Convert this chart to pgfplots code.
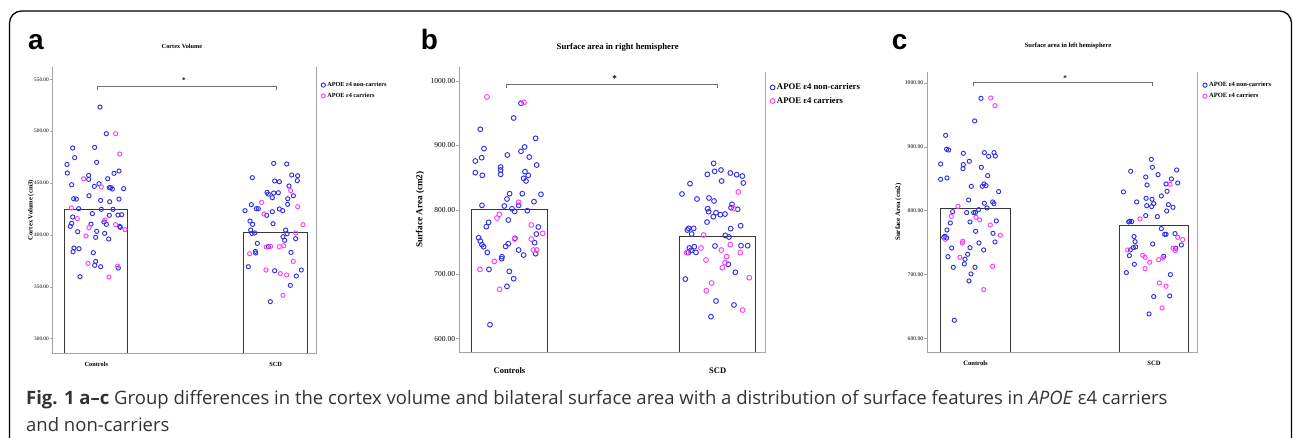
\documentclass[border=0pt]{standalone}
\usepackage{fontspec}
\setmainfont{Liberation Serif}
\newfontfamily\capfont{Open Sans}
\newfontfamily\letterfont{Liberation Sans}
\usepackage{pgfplots}
\pgfplotsset{compat=1.18}

\definecolor{noncar}{RGB}{51,51,230}
\definecolor{car}{RGB}{255,64,255}
\definecolor{axgray}{RGB}{165,165,165}
\definecolor{bargray}{RGB}{55,55,55}
\definecolor{brgray}{RGB}{110,110,110}

\newcommand{\fs}[1]{\fontsize{#1}{#1}\selectfont}

\pgfplotsset{
  panel/.style={
    scale only axis,
    axis line style={draw=none},
    clip mode=individual,
    tick align=outside,
    major tick length=3pt,
    ytick pos=left,
    xtick style={draw=none},
    ytick style={draw=axgray, line width=0.6pt},
    /pgf/number format/assume math mode=true,
    yticklabel style={anchor=east, inner sep=1pt,
      /pgf/number format/fixed, /pgf/number format/fixed zerofill,
      /pgf/number format/precision=2, /pgf/number format/1000 sep={}},
    legend style={draw=none, fill=none, inner sep=0pt, anchor=north west},
    legend cell align=left,
  },
  nonc/.style={only marks, mark=o, color=noncar, mark options={line width=0.95pt}},
  carr/.style={only marks, mark=o, color=car, mark options={line width=0.95pt}},
  bars/.style={ybar, bar shift=0pt, fill=white, draw=bargray, line width=1pt, forget plot},
}

\begin{document}
\begin{tikzpicture}
\useasboundingbox (0,0) rectangle (1293pt,-438pt);
\draw[line width=1.3pt, rounded corners=12pt] (9.5pt,-11pt) rectangle (1291.5pt,-480pt);

% ---------------- panel a ----------------
\begin{axis}[panel,
  at={(53pt,-353pt)}, anchor=south west,
  width=264pt, height=286pt,
  xmin=160, xmax=952, ymin=286.2, ymax=561.9,
  xtick={290,828}, xticklabels={Controls,SCD},
  xticklabel style={font=\bfseries\fs{6.3}, anchor=center, yshift=-8pt},
  ytick={300,350,...,550},
  yticklabel style={font=\fs{5.3}},
  ylabel={Cortex Volume (cm3)},
  ylabel style={at={(axis description cs:-0.083,0.5)}, anchor=center, font=\bfseries\fs{6.6}},
  title={Cortex Volume},
  title style={at={(axis description cs:0.5,1)}, anchor=center, yshift=15pt, xshift=-3pt, font=\bfseries\fs{6.3}},
  legend style={at={(rel axis cs:1,1)}, xshift=4pt, yshift=-13pt, font=\bfseries\fs{6.2}, row sep=1pt},
  mark size=2.1pt,
]
\addplot[bars, bar width=190] coordinates {(290,424.3) (828,402.8)};
\addplot[nonc] coordinates {
(301,523.3) (320,497.6) (219,483.8) (285,484.4) (225,474.5) (202,468.0) (291,470.0) (203,459.7)
(267,457.4) (267,453.6) (216,448.4) (298,449.4) (284,446.8) (324,454.2) (343,459.4) (358,461.6)
(329,445.6) (333,445.6) (338,444.3) (372,444.6) (268,437.8) (222,434.9) (230,434.6) (303,433.3)
(330,432.0) (358,434.6) (237,425.3) (305,424.7) (340,424.7) (278,420.5) (329,418.9) (355,419.2)
(366,419.5) (219,417.3) (216,411.2) (212,408.3) (274,410.5) (313,412.5) (320,410.2) (360,408.3)
(362,407.3) (234,403.1) (291,403.5) (315,401.5) (288,397.7) (327,396.1) (223,387.4) (238,386.8)
(220,383.9) (281,382.9) (288,374.5) (285,370.7) (303,369.4) (356,368.1) (241,359.8)
(822,469.0) (861,468.4) (758,455.2) (876,457.8) (894,457.1) (893,452.3) (825,452.0) (839,451.3)
(868,447.2) (802,441.0) (806,439.4) (822,440.4) (836,440.7) (881,437.8) (818,435.9) (864,434.9)
(755,429.2) (864,429.5) (770,425.3) (776,425.3) (839,425.0) (849,423.4) (736,423.4) (818,422.4)
(801,418.9) (751,413.4) (759,410.2) (820,410.8) (753,404.7) (858,404.7) (757,401.5) (765,401.9)
(862,401.2) (850,398.3) (855,394.8) (888,396.4) (773,391.9) (767,384.2) (768,382.6) (806,388.7)
(874,383.2) (746,369.4) (825,365.5) (905,366.2) (890,360.4) (872,351.4) (812,335.7)
};
\addlegendentry{APOE ε4 non-carriers}
\addplot[carr] coordinates {
(348,497.6) (360,478.0) (252,454.2) (305,446.2) (215,426.0) (233,415.7) (316,414.4) (268,407.0)
(348,409.9) (376,405.1) (259,399.0) (265,372.6) (354,370.0) (328,359.4)
(786,431.4) (873,442.7) (894,427.2) (793,420.2) (910,409.9) (888,401.9) (750,381.9) (800,388.4)
(813,389.0) (839,388.7) (852,389.6) (881,374.5) (799,366.2) (842,362.7) (861,361.4) (850,341.8)
};
\addlegendentry{APOE ε4 carriers}
\addplot[brgray, line width=0.8pt, forget plot] coordinates {(292,539.7) (292,543.5) (831,543.5) (831,539.7)};
\node[font=\bfseries\fs{7}] at (axis cs:553,549) {*};
\draw[axgray, line width=1pt] (rel axis cs:0,1) -- (rel axis cs:0,0) -- (rel axis cs:1,0) -- (rel axis cs:1,1);
\end{axis}

% ---------------- panel b ----------------
\begin{axis}[panel,
  at={(459.3pt,-352.7pt)}, anchor=south west,
  width=306.7pt, height=286pt,
  xmin=148, xmax=1068, ymin=578.3, ymax=1022.2,
  xtick={298.5,923}, xticklabels={Controls,SCD},
  xticklabel style={font=\bfseries\fs{8.5}, anchor=center, yshift=-15pt},
  ytick={600,700,...,1000},
  yticklabel style={font=\fs{7.5}},
  ylabel={Surface Area (cm2)},
  ylabel style={at={(axis description cs:-0.128,0.5)}, anchor=center, font=\bfseries\fs{9.2}},
  title={Surface area in right hemisphere},
  title style={at={(axis description cs:0.5,1)}, anchor=center, yshift=13.4pt, xshift=5pt, font=\bfseries\fs{8.7}},
  legend style={at={(rel axis cs:1,1)}, xshift=4pt, yshift=-14.8pt, font=\bfseries\fs{8.7}, row sep=2pt},
  mark size=2.4pt,
]
\addplot[bars, bar width=226] coordinates {(298.5,801.3) (923,759.4)};
\addplot[nonc] coordinates {
(333,965.4) (311,942.6) (211,925.0) (377,911.0) (222,895.0) (344,897.6) (333,890.8) (215,881.0)
(292,885.1) (358,882.0) (196,875.8) (272,866.5) (272,861.9) (272,855.1) (345,859.3) (355,853.6)
(196,857.7) (217,853.6) (380,869.6) (341,848.9) (348,844.8) (299,825.1) (337,825.1) (393,824.1)
(291,816.8) (372,812.7) (216,807.0) (283,806.0) (326,807.0) (306,801.8) (314,797.7) (352,798.7)
(295,784.2) (236,780.6) (229,773.9) (385,773.4) (379,762.5) (206,756.8) (211,751.6) (315,755.8)
(374,749.0) (216,745.9) (221,742.8) (295,747.5) (287,743.3) (232,734.0) (326,737.7) (341,729.9)
(377,732.0) (276,727.3) (275,724.2) (237,707.6) (298,704.5) (311,693.2) (291,681.2) (240,621.7)
(911,872.2) (892,855.1) (914,859.8) (933,861.9) (961,857.2) (980,854.6) (997,852.5) (935,844.8)
(1000,841.7) (840,840.6) (816,824.6) (861,816.8) (897,818.4) (912,813.7) (966,808.6) (963,803.4)
(983,800.8) (893,801.8) (896,797.2) (918,795.6) (931,792.5) (945,793.5) (910,789.4) (891,781.1)
(992,775.4) (962,770.8) (836,771.3) (851,771.3) (832,768.7) (845,762.5) (946,760.4) (957,757.8)
(838,740.8) (853,742.8) (843,737.1) (835,734.0) (858,734.0) (915,743.9) (993,744.4) (1013,744.4)
(955,715.4) (976,703.0) (826,692.6) (918,658.5) (972,652.3) (903,634.2)
};
\addlegendentry{APOE ε4 non-carriers}
\addplot[carr] coordinates {
(231,975.2) (342,966.9) (326,811.7) (268,793.0) (261,787.3) (364,776.5) (398,763.5) (314,754.7)
(364,754.7) (370,737.7) (380,737.7) (253,720.1) (210,707.6) (269,676.6)
(985,827.7) (971,801.8) (881,760.9) (873,740.8) (830,733.5) (961,745.9) (934,737.7) (991,733.5)
(888,722.1) (950,727.3) (945,718.0) (937,710.2) (1018,694.7) (905,686.4) (889,674.5) (998,644.5)
};
\addlegendentry{APOE ε4 carriers}
\addplot[brgray, line width=0.8pt, forget plot] coordinates {(289,988.6) (289,994.9) (922,994.9) (922,988.6)};
\node[font=\bfseries\fs{9}] at (axis cs:614,1004) {*};
\draw[axgray, line width=1pt] (rel axis cs:0,1) -- (rel axis cs:0,0) -- (rel axis cs:1,0) -- (axis cs:1068,1014);
\end{axis}

% ---------------- panel c ----------------
\begin{axis}[panel,
  at={(927.3pt,-352.3pt)}, anchor=south west,
  width=270.4pt, height=280.6pt,
  xmin=172, xmax=983, ymin=578, ymax=1017.7,
  xtick={316.5,852}, xticklabels={Controls,SCD},
  xticklabel style={font=\bfseries\fs{6.6}, anchor=center, yshift=-8.4pt},
  ytick={600,700,...,1000},
  yticklabel style={font=\fs{5.6}},
  ylabel={Surface Area (cm2)},
  ylabel style={at={(axis description cs:-0.107,0.5)}, anchor=center, font=\bfseries\fs{6.9}},
  title={Surface area in left hemisphere},
  title style={at={(axis description cs:0.5,1)}, anchor=center, yshift=19.4pt, xshift=5.5pt, font=\bfseries\fs{6.5}},
  legend style={at={(rel axis cs:1,1)}, xshift=5pt, yshift=-8.3pt, font=\bfseries\fs{6.5}, row sep=1pt},
  mark size=2.1pt,
]
\addplot[bars, bar width=208] coordinates {(316.5,802.6) (852,777.0)};
\addplot[nonc] coordinates {
(333,976.0) (314,940.5) (227,918.0) (230,896.1) (236,895.0) (280,889.8) (343,890.9) (372,890.9)
(356,885.1) (376,885.6) (212,873.1) (298,877.3) (280,872.1) (279,865.8) (334,867.9) (353,854.8)
(212,849.1) (231,851.2) (304,838.1) (337,838.1) (342,841.8) (348,839.2) (386,829.8) (296,816.7)
(343,811.5) (368,813.6) (372,811.0) (351,804.2) (326,801.6) (248,798.4) (290,796.9) (311,796.9)
(316,796.9) (241,780.7) (300,782.3) (379,783.8) (231,769.7) (317,767.6) (369,764.5) (225,759.8)
(221,758.2) (230,757.2) (375,750.9) (327,749.3) (245,741.5) (300,742.0) (341,738.4) (234,727.9)
(293,731.6) (285,723.8) (283,716.5) (250,711.2) (315,711.2) (303,700.8) (297,689.8) (253,628.2)
(844,880.4) (847,867.9) (782,861.6) (920,863.7) (827,852.7) (864,856.4) (904,849.6) (888,841.8)
(923,843.3) (831,840.2) (760,829.3) (891,830.3) (874,823.0) (828,819.3) (846,817.8) (800,813.6)
(851,811.0) (830,807.8) (845,806.3) (895,809.4) (909,805.2) (890,799.5) (827,792.2) (862,790.6)
(776,782.3) (779,783.3) (785,782.8) (874,771.8) (884,762.9) (888,762.9) (915,764.0) (792,759.3)
(795,751.4) (848,747.8) (934,746.2) (790,742.0) (797,743.1) (781,738.4) (917,741.0) (778,729.5)
(881,728.5) (793,715.9) (769,702.9) (901,699.7) (851,665.3) (899,666.3) (837,638.1)
};
\addlegendentry{APOE ε4 non-carriers}
\addplot[carr] coordinates {
(362,976.5) (375,964.5) (264,806.8) (244,791.1) (318,789.6) (329,785.4) (361,777.5) (391,761.4)
(278,752.0) (277,749.3) (226,755.1) (270,726.9) (368,712.8) (341,676.2)
(900,841.3) (810,787.0) (923,758.2) (938,754.6) (909,741.0) (916,737.3) (773,738.4) (818,730.0)
(825,726.9) (866,723.2) (878,725.9) (839,719.1) (825,709.1) (868,686.7) (888,681.5) (876,647.5)
};
\addlegendentry{APOE ε4 carriers}
\addplot[brgray, line width=0.8pt, forget plot] coordinates {(310,995.3) (310,1001.6) (847,1001.6) (847,995.3)};
\node[font=\bfseries\fs{7}] at (axis cs:585,1007) {*};
\draw[axgray, line width=1pt] (rel axis cs:0,1) -- (rel axis cs:0,0) -- (rel axis cs:1,0) -- (rel axis cs:1,1);
\end{axis}

% ---------------- letters and caption ----------------
\node[anchor=base west, inner sep=0pt, font=\letterfont\bfseries\fs{28}] at (28pt,-50pt) {a};
\node[anchor=base west, inner sep=0pt, font=\letterfont\bfseries\fs{28}] at (420.7pt,-49.3pt) {b};
\node[anchor=base west, inner sep=0pt, font=\letterfont\bfseries\fs{28}] at (891.7pt,-50pt) {c};
\node[anchor=base west, inner sep=0pt, text=black!80, font=\capfont\fs{18.5}] at (26pt,-404.5pt)
  {\textbf{Fig. 1 a–c} Group differences in the cortex volume and bilateral surface area with a distribution of surface features in \textit{APOE} ε4 carriers};
\node[anchor=base west, inner sep=0pt, text=black!80, font=\capfont\fs{18.5}] at (26pt,-431pt) {and non-carriers};
\end{tikzpicture}
\end{document}
